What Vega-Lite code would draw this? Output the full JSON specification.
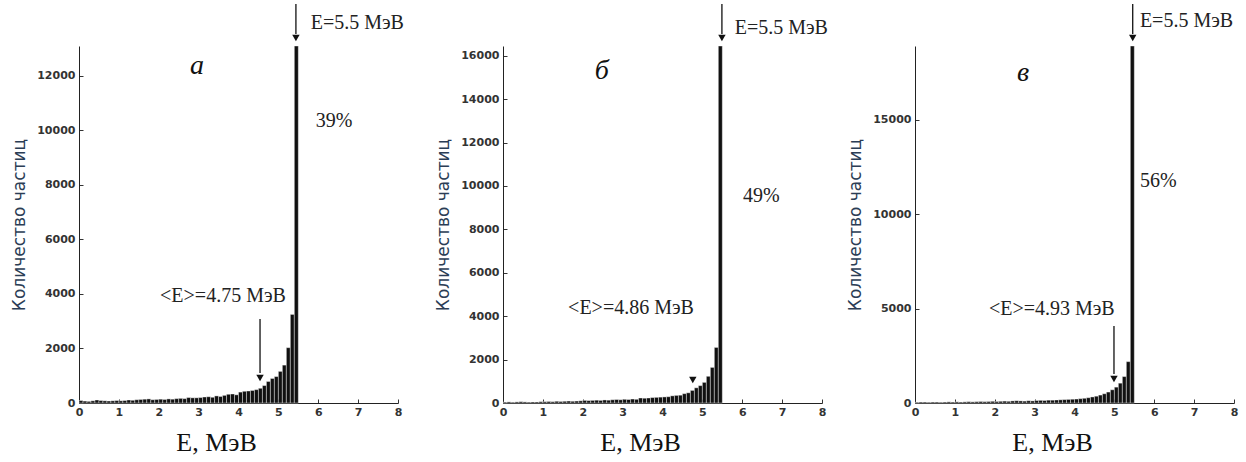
{
  "$schema": "https://vega.github.io/schema/vega-lite/v6.json",
  "background": "white",
  "padding": {"left": 10, "top": 3, "right": 5, "bottom": 5},
  "bounds": "flush",
  "spacing": 105,
  "config": {
    "view": {"stroke": null},
    "axis": {
      "grid": false,
      "domainColor": "#222",
      "tickColor": "#333",
      "labelFont": "DejaVu Sans",
      "labelFontSize": 11,
      "labelFontWeight": "bold",
      "labelColor": "#333",
      "titleFontWeight": "normal",
      "format": "d"
    },
    "axisX": {
      "values": [0, 1, 2, 3, 4, 5, 6, 7, 8],
      "tickSize": -4,
      "labelPadding": 7,
      "titleFont": "Liberation Serif",
      "titleFontSize": 26,
      "titleColor": "#111",
      "titlePadding": 12,
      "titleX": 137,
      "labelFlush": false
    },
    "axisY": {
      "tickSize": -4,
      "labelPadding": 8,
      "titleFont": "DejaVu Sans",
      "titleFontSize": 17,
      "titleColor": "#2b3d55",
      "titlePadding": 8
    }
  },
  "datasets": {
    "a": [
      {"e0": 0.0, "e1": 0.1, "n": 90}, {"e0": 0.1, "e1": 0.2, "n": 70}, {"e0": 0.2, "e1": 0.3, "n": 60}, {"e0": 0.3, "e1": 0.4, "n": 80}, {"e0": 0.4, "e1": 0.5, "n": 110},
      {"e0": 0.5, "e1": 0.6, "n": 90}, {"e0": 0.6, "e1": 0.7, "n": 80}, {"e0": 0.7, "e1": 0.8, "n": 70}, {"e0": 0.8, "e1": 0.9, "n": 80}, {"e0": 0.9, "e1": 1.0, "n": 90},
      {"e0": 1.0, "e1": 1.1, "n": 80}, {"e0": 1.1, "e1": 1.2, "n": 90}, {"e0": 1.2, "e1": 1.3, "n": 110}, {"e0": 1.3, "e1": 1.4, "n": 100}, {"e0": 1.4, "e1": 1.5, "n": 120},
      {"e0": 1.5, "e1": 1.6, "n": 130}, {"e0": 1.6, "e1": 1.7, "n": 140}, {"e0": 1.7, "e1": 1.8, "n": 150}, {"e0": 1.8, "e1": 1.9, "n": 120}, {"e0": 1.9, "e1": 2.0, "n": 130},
      {"e0": 2.0, "e1": 2.1, "n": 140}, {"e0": 2.1, "e1": 2.2, "n": 130}, {"e0": 2.2, "e1": 2.3, "n": 150}, {"e0": 2.3, "e1": 2.4, "n": 140}, {"e0": 2.4, "e1": 2.5, "n": 160},
      {"e0": 2.5, "e1": 2.6, "n": 170}, {"e0": 2.6, "e1": 2.7, "n": 160}, {"e0": 2.7, "e1": 2.8, "n": 200}, {"e0": 2.8, "e1": 2.9, "n": 190}, {"e0": 2.9, "e1": 3.0, "n": 190},
      {"e0": 3.0, "e1": 3.1, "n": 200}, {"e0": 3.1, "e1": 3.2, "n": 220}, {"e0": 3.2, "e1": 3.3, "n": 230}, {"e0": 3.3, "e1": 3.4, "n": 210}, {"e0": 3.4, "e1": 3.5, "n": 260},
      {"e0": 3.5, "e1": 3.6, "n": 240}, {"e0": 3.6, "e1": 3.7, "n": 280}, {"e0": 3.7, "e1": 3.8, "n": 320}, {"e0": 3.8, "e1": 3.9, "n": 330}, {"e0": 3.9, "e1": 4.0, "n": 300},
      {"e0": 4.0, "e1": 4.1, "n": 400}, {"e0": 4.1, "e1": 4.2, "n": 430}, {"e0": 4.2, "e1": 4.3, "n": 440}, {"e0": 4.3, "e1": 4.4, "n": 460}, {"e0": 4.4, "e1": 4.5, "n": 490},
      {"e0": 4.5, "e1": 4.6, "n": 540}, {"e0": 4.6, "e1": 4.7, "n": 640}, {"e0": 4.7, "e1": 4.8, "n": 790}, {"e0": 4.8, "e1": 4.9, "n": 900}, {"e0": 4.9, "e1": 5.0, "n": 970},
      {"e0": 5.0, "e1": 5.1, "n": 1160}, {"e0": 5.1, "e1": 5.2, "n": 1390}, {"e0": 5.2, "e1": 5.3, "n": 2030}, {"e0": 5.3, "e1": 5.4, "n": 3250}, {"e0": 5.4, "e1": 5.5, "n": 13100}
    ],
    "b": [
      {"e0": 0.0, "e1": 0.1, "n": 40}, {"e0": 0.1, "e1": 0.2, "n": 50}, {"e0": 0.2, "e1": 0.3, "n": 40}, {"e0": 0.3, "e1": 0.4, "n": 50}, {"e0": 0.4, "e1": 0.5, "n": 60},
      {"e0": 0.5, "e1": 0.6, "n": 50}, {"e0": 0.6, "e1": 0.7, "n": 40}, {"e0": 0.7, "e1": 0.8, "n": 50}, {"e0": 0.8, "e1": 0.9, "n": 50}, {"e0": 0.9, "e1": 1.0, "n": 60},
      {"e0": 1.0, "e1": 1.1, "n": 60}, {"e0": 1.1, "e1": 1.2, "n": 70}, {"e0": 1.2, "e1": 1.3, "n": 60}, {"e0": 1.3, "e1": 1.4, "n": 80}, {"e0": 1.4, "e1": 1.5, "n": 70},
      {"e0": 1.5, "e1": 1.6, "n": 80}, {"e0": 1.6, "e1": 1.7, "n": 90}, {"e0": 1.7, "e1": 1.8, "n": 80}, {"e0": 1.8, "e1": 1.9, "n": 90}, {"e0": 1.9, "e1": 2.0, "n": 100},
      {"e0": 2.0, "e1": 2.1, "n": 120}, {"e0": 2.1, "e1": 2.2, "n": 110}, {"e0": 2.2, "e1": 2.3, "n": 120}, {"e0": 2.3, "e1": 2.4, "n": 130}, {"e0": 2.4, "e1": 2.5, "n": 120},
      {"e0": 2.5, "e1": 2.6, "n": 140}, {"e0": 2.6, "e1": 2.7, "n": 130}, {"e0": 2.7, "e1": 2.8, "n": 150}, {"e0": 2.8, "e1": 2.9, "n": 160}, {"e0": 2.9, "e1": 3.0, "n": 150},
      {"e0": 3.0, "e1": 3.1, "n": 170}, {"e0": 3.1, "e1": 3.2, "n": 160}, {"e0": 3.2, "e1": 3.3, "n": 180}, {"e0": 3.3, "e1": 3.4, "n": 170}, {"e0": 3.4, "e1": 3.5, "n": 230},
      {"e0": 3.5, "e1": 3.6, "n": 220}, {"e0": 3.6, "e1": 3.7, "n": 230}, {"e0": 3.7, "e1": 3.8, "n": 250}, {"e0": 3.8, "e1": 3.9, "n": 260}, {"e0": 3.9, "e1": 4.0, "n": 270},
      {"e0": 4.0, "e1": 4.1, "n": 280}, {"e0": 4.1, "e1": 4.2, "n": 290}, {"e0": 4.2, "e1": 4.3, "n": 330}, {"e0": 4.3, "e1": 4.4, "n": 350}, {"e0": 4.4, "e1": 4.5, "n": 360},
      {"e0": 4.5, "e1": 4.6, "n": 430}, {"e0": 4.6, "e1": 4.7, "n": 470}, {"e0": 4.7, "e1": 4.8, "n": 580}, {"e0": 4.8, "e1": 4.9, "n": 700}, {"e0": 4.9, "e1": 5.0, "n": 800},
      {"e0": 5.0, "e1": 5.1, "n": 950}, {"e0": 5.1, "e1": 5.2, "n": 1230}, {"e0": 5.2, "e1": 5.3, "n": 1640}, {"e0": 5.3, "e1": 5.4, "n": 2560}, {"e0": 5.4, "e1": 5.5, "n": 16450}
    ],
    "c": [
      {"e0": 0.0, "e1": 0.1, "n": 40}, {"e0": 0.1, "e1": 0.2, "n": 50}, {"e0": 0.2, "e1": 0.3, "n": 50}, {"e0": 0.3, "e1": 0.4, "n": 40}, {"e0": 0.4, "e1": 0.5, "n": 50},
      {"e0": 0.5, "e1": 0.6, "n": 50}, {"e0": 0.6, "e1": 0.7, "n": 40}, {"e0": 0.7, "e1": 0.8, "n": 50}, {"e0": 0.8, "e1": 0.9, "n": 60}, {"e0": 0.9, "e1": 1.0, "n": 50},
      {"e0": 1.0, "e1": 1.1, "n": 60}, {"e0": 1.1, "e1": 1.2, "n": 50}, {"e0": 1.2, "e1": 1.3, "n": 60}, {"e0": 1.3, "e1": 1.4, "n": 70}, {"e0": 1.4, "e1": 1.5, "n": 60},
      {"e0": 1.5, "e1": 1.6, "n": 70}, {"e0": 1.6, "e1": 1.7, "n": 80}, {"e0": 1.7, "e1": 1.8, "n": 70}, {"e0": 1.8, "e1": 1.9, "n": 80}, {"e0": 1.9, "e1": 2.0, "n": 90},
      {"e0": 2.0, "e1": 2.1, "n": 80}, {"e0": 2.1, "e1": 2.2, "n": 90}, {"e0": 2.2, "e1": 2.3, "n": 100}, {"e0": 2.3, "e1": 2.4, "n": 90}, {"e0": 2.4, "e1": 2.5, "n": 110},
      {"e0": 2.5, "e1": 2.6, "n": 120}, {"e0": 2.6, "e1": 2.7, "n": 110}, {"e0": 2.7, "e1": 2.8, "n": 100}, {"e0": 2.8, "e1": 2.9, "n": 120}, {"e0": 2.9, "e1": 3.0, "n": 110},
      {"e0": 3.0, "e1": 3.1, "n": 130}, {"e0": 3.1, "e1": 3.2, "n": 140}, {"e0": 3.2, "e1": 3.3, "n": 130}, {"e0": 3.3, "e1": 3.4, "n": 150}, {"e0": 3.4, "e1": 3.5, "n": 150},
      {"e0": 3.5, "e1": 3.6, "n": 160}, {"e0": 3.6, "e1": 3.7, "n": 170}, {"e0": 3.7, "e1": 3.8, "n": 180}, {"e0": 3.8, "e1": 3.9, "n": 190}, {"e0": 3.9, "e1": 4.0, "n": 200},
      {"e0": 4.0, "e1": 4.1, "n": 210}, {"e0": 4.1, "e1": 4.2, "n": 230}, {"e0": 4.2, "e1": 4.3, "n": 250}, {"e0": 4.3, "e1": 4.4, "n": 280}, {"e0": 4.4, "e1": 4.5, "n": 320},
      {"e0": 4.5, "e1": 4.6, "n": 360}, {"e0": 4.6, "e1": 4.7, "n": 420}, {"e0": 4.7, "e1": 4.8, "n": 490}, {"e0": 4.8, "e1": 4.9, "n": 580}, {"e0": 4.9, "e1": 5.0, "n": 700},
      {"e0": 5.0, "e1": 5.1, "n": 840}, {"e0": 5.1, "e1": 5.2, "n": 1050}, {"e0": 5.2, "e1": 5.3, "n": 1400}, {"e0": 5.3, "e1": 5.4, "n": 2190}, {"e0": 5.4, "e1": 5.5, "n": 18900}
    ]
  },
  "hconcat": [
    {
      "width": 319,
      "height": 357,
      "layer": [
        {
          "data": {"name": "a"},
          "mark": {"type": "rect", "color": "#111", "stroke": "#ffffff", "strokeWidth": 0.4},
          "encoding": {
            "x": {"field": "e0", "type": "quantitative", "scale": {"domain": [0, 8], "nice": false}, "axis": {"title": "E, МэВ"}},
            "x2": {"field": "e1"},
            "y": {"field": "n", "type": "quantitative", "scale": {"domain": [0, 13100], "nice": false}, "axis": {"title": "Количество частиц", "values": [0, 2000, 4000, 6000, 8000, 10000, 12000]}},
            "y2": {"datum": 0}
          }
        },
        {
          "data": {"values": [{"x": 4.54, "y": 3083, "y2": 1101}, {"x": 5.44, "y": 14640, "y2": 13541}]},
          "mark": {"type": "rule", "color": "#111", "strokeWidth": 1.3},
          "encoding": {
            "x": {"field": "x", "type": "quantitative"},
            "y": {"field": "y", "type": "quantitative"},
            "y2": {"field": "y2"}
          }
        },
        {
          "data": {"values": [{"x": 4.54, "y": 917}, {"x": 5.44, "y": 13394}]},
          "mark": {"type": "point", "shape": "triangle-down", "filled": true, "color": "#111", "size": 55, "opacity": 1},
          "encoding": {
            "x": {"field": "x", "type": "quantitative"},
            "y": {"field": "y", "type": "quantitative"}
          }
        },
        {
          "data": {"values": [{"x": 2.96, "y": 12366, "t": "а"}]},
          "mark": {"type": "text", "font": "Liberation Serif", "fontStyle": "italic", "fontSize": 28, "align": "center", "baseline": "middle", "color": "#111"},
          "encoding": {
            "x": {"field": "x", "type": "quantitative"},
            "y": {"field": "y", "type": "quantitative"},
            "text": {"field": "t"}
          }
        },
        {
          "data": {"values": [{"x": 5.94, "y": 10348, "t": "39%"}, {"x": 5.81, "y": 13944, "t": "E=5.5 МэВ"}]},
          "mark": {"type": "text", "font": "Liberation Serif", "fontSize": 20, "align": "left", "baseline": "middle", "color": "#222"},
          "encoding": {
            "x": {"field": "x", "type": "quantitative"},
            "y": {"field": "y", "type": "quantitative"},
            "text": {"field": "t"}
          }
        },
        {
          "data": {"values": [{"x": 3.61, "y": 3926, "t": "<E>=4.75 МэВ"}]},
          "mark": {"type": "text", "font": "Liberation Serif", "fontSize": 20, "align": "center", "baseline": "middle", "color": "#222"},
          "encoding": {
            "x": {"field": "x", "type": "quantitative"},
            "y": {"field": "y", "type": "quantitative"},
            "text": {"field": "t"}
          }
        }
      ]
    },
    {
      "hconcat": [
        {
          "width": 319,
          "height": 357,
          "layer": [
            {
              "data": {"name": "b"},
              "mark": {"type": "rect", "color": "#111", "stroke": "#ffffff", "strokeWidth": 0.4},
              "encoding": {
                "x": {"field": "e0", "type": "quantitative", "scale": {"domain": [0, 8], "nice": false}, "axis": {"title": "E, МэВ"}},
                "x2": {"field": "e1"},
                "y": {"field": "n", "type": "quantitative", "scale": {"domain": [0, 16450], "nice": false}, "axis": {"title": "Количество частиц", "values": [0, 2000, 4000, 6000, 8000, 10000, 12000, 14000, 16000]}},
                "y2": {"datum": 0}
              }
            },
            {
              "data": {"values": [{"x": 5.49, "y": 18386, "y2": 17003}]},
              "mark": {"type": "rule", "color": "#111", "strokeWidth": 1.3},
              "encoding": {
                "x": {"field": "x", "type": "quantitative"},
                "y": {"field": "y", "type": "quantitative"},
                "y2": {"field": "y2"}
              }
            },
            {
              "data": {"values": [{"x": 4.76, "y": 1060}, {"x": 5.49, "y": 16819}]},
              "mark": {"type": "point", "shape": "triangle-down", "filled": true, "color": "#111", "size": 55, "opacity": 1},
              "encoding": {
                "x": {"field": "x", "type": "quantitative"},
                "y": {"field": "y", "type": "quantitative"}
              }
            },
            {
              "data": {"values": [{"x": 2.48, "y": 15300, "t": "б"}]},
              "mark": {"type": "text", "font": "Liberation Serif", "fontStyle": "italic", "fontSize": 28, "align": "center", "baseline": "middle", "color": "#111"},
              "encoding": {
                "x": {"field": "x", "type": "quantitative"},
                "y": {"field": "y", "type": "quantitative"},
                "text": {"field": "t"}
              }
            },
            {
              "data": {"values": [{"x": 6.02, "y": 9540, "t": "49%"}, {"x": 5.81, "y": 17280, "t": "E=5.5 МэВ"}]},
              "mark": {"type": "text", "font": "Liberation Serif", "fontSize": 20, "align": "left", "baseline": "middle", "color": "#222"},
              "encoding": {
                "x": {"field": "x", "type": "quantitative"},
                "y": {"field": "y", "type": "quantitative"},
                "text": {"field": "t"}
              }
            },
            {
              "data": {"values": [{"x": 3.21, "y": 4378, "t": "<E>=4.86 МэВ"}]},
              "mark": {"type": "text", "font": "Liberation Serif", "fontSize": 20, "align": "center", "baseline": "middle", "color": "#222"},
              "encoding": {
                "x": {"field": "x", "type": "quantitative"},
                "y": {"field": "y", "type": "quantitative"},
                "text": {"field": "t"}
              }
            }
          ]
        },
        {
          "width": 319,
          "height": 357,
          "layer": [
            {
              "data": {"name": "c"},
              "mark": {"type": "rect", "color": "#111", "stroke": "#ffffff", "strokeWidth": 0.4},
              "encoding": {
                "x": {"field": "e0", "type": "quantitative", "scale": {"domain": [0, 8], "nice": false}, "axis": {"title": "E, МэВ"}},
                "x2": {"field": "e1"},
                "y": {"field": "n", "type": "quantitative", "scale": {"domain": [0, 18900], "nice": false}, "axis": {"title": "Количество частиц", "values": [0, 5000, 10000, 15000]}},
                "y2": {"datum": 0}
              }
            },
            {
              "data": {"values": [{"x": 4.99, "y": 4076, "y2": 1535}, {"x": 5.46, "y": 21123, "y2": 19535}]},
              "mark": {"type": "rule", "color": "#111", "strokeWidth": 1.3},
              "encoding": {
                "x": {"field": "x", "type": "quantitative"},
                "y": {"field": "y", "type": "quantitative"},
                "y2": {"field": "y2"}
              }
            },
            {
              "data": {"values": [{"x": 4.99, "y": 1270}, {"x": 5.46, "y": 19323}]},
              "mark": {"type": "point", "shape": "triangle-down", "filled": true, "color": "#111", "size": 55, "opacity": 1},
              "encoding": {
                "x": {"field": "x", "type": "quantitative"},
                "y": {"field": "y", "type": "quantitative"}
              }
            },
            {
              "data": {"values": [{"x": 2.71, "y": 17470, "t": "в"}]},
              "mark": {"type": "text", "font": "Liberation Serif", "fontStyle": "italic", "fontSize": 28, "align": "center", "baseline": "middle", "color": "#111"},
              "encoding": {
                "x": {"field": "x", "type": "quantitative"},
                "y": {"field": "y", "type": "quantitative"},
                "text": {"field": "t"}
              }
            },
            {
              "data": {"values": [{"x": 5.64, "y": 11753, "t": "56%"}, {"x": 5.64, "y": 20223, "t": "E=5.5 МэВ"}]},
              "mark": {"type": "text", "font": "Liberation Serif", "fontSize": 20, "align": "left", "baseline": "middle", "color": "#222"},
              "encoding": {
                "x": {"field": "x", "type": "quantitative"},
                "y": {"field": "y", "type": "quantitative"},
                "text": {"field": "t"}
              }
            },
            {
              "data": {"values": [{"x": 3.43, "y": 4976, "t": "<E>=4.93 МэВ"}]},
              "mark": {"type": "text", "font": "Liberation Serif", "fontSize": 20, "align": "center", "baseline": "middle", "color": "#222"},
              "encoding": {
                "x": {"field": "x", "type": "quantitative"},
                "y": {"field": "y", "type": "quantitative"},
                "text": {"field": "t"}
              }
            }
          ]
        }
      ],
      "spacing": 93,
      "bounds": "flush"
    }
  ]
}
